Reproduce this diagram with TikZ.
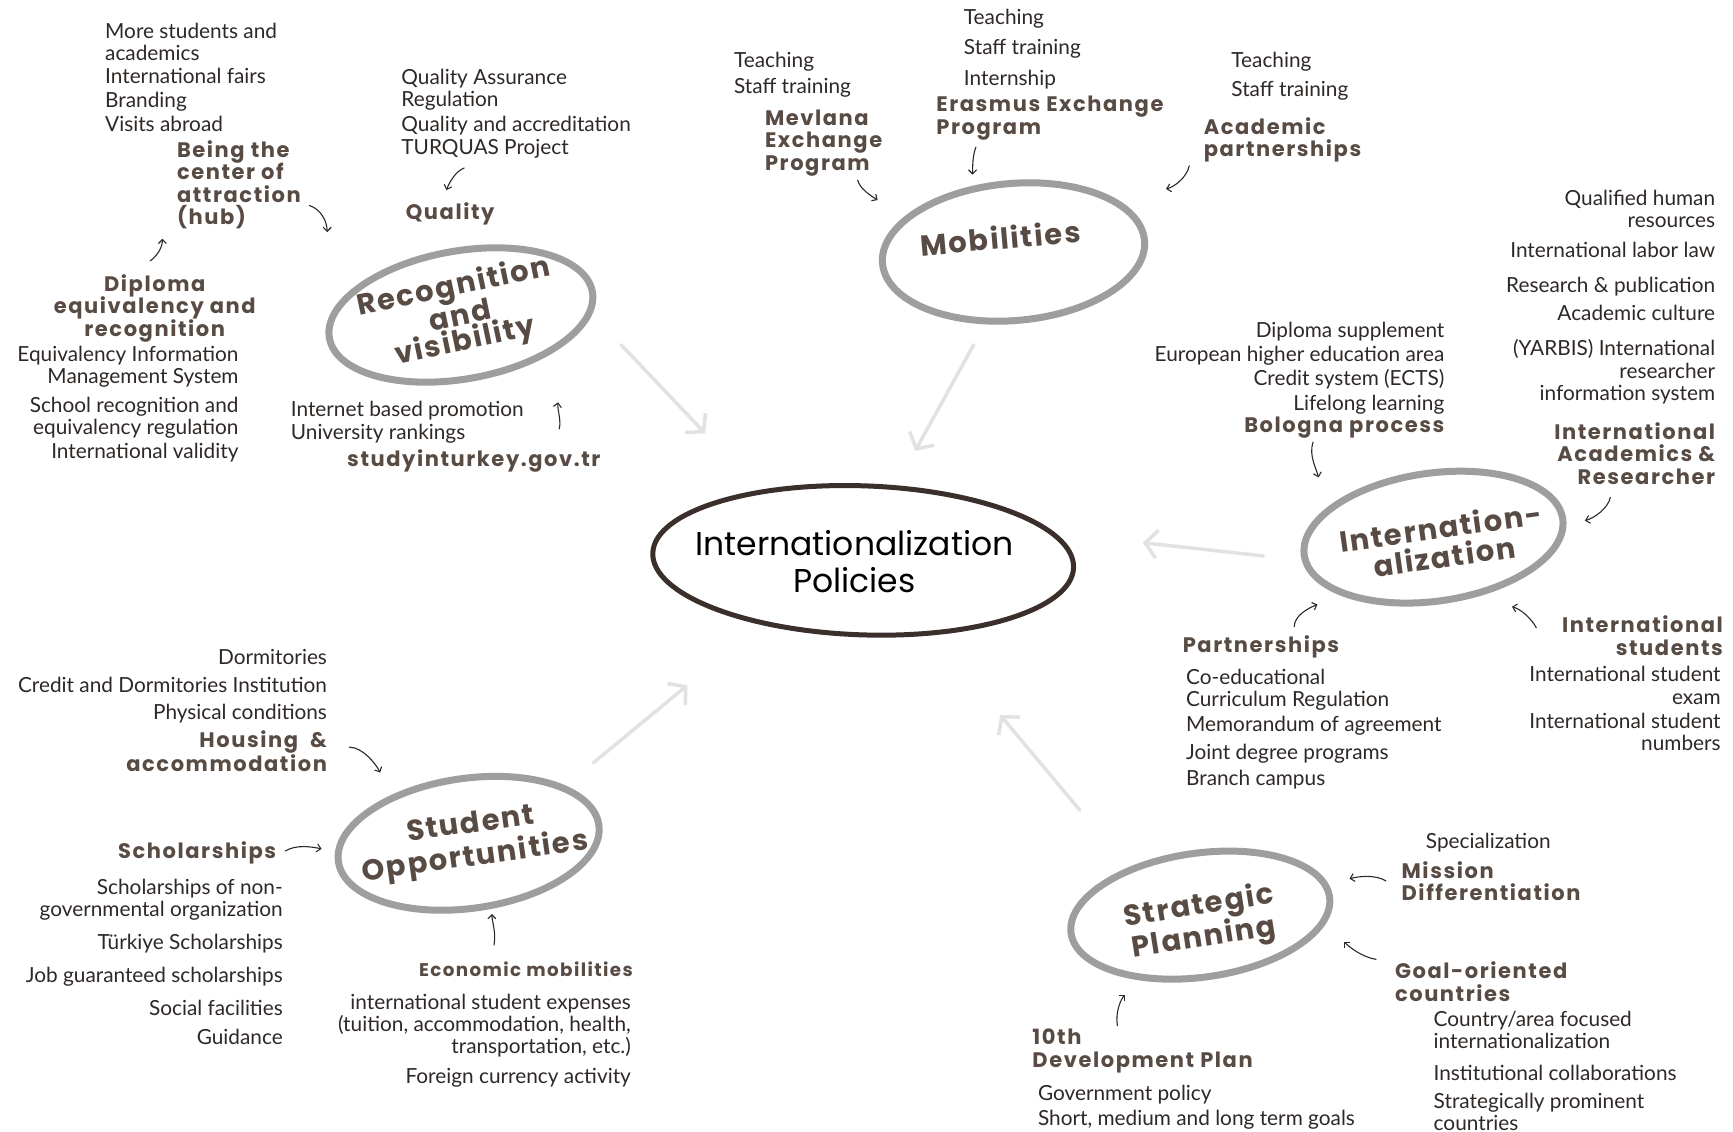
\documentclass[tikz,border=0pt]{standalone}
\usepackage{fontspec}
\usetikzlibrary{arrows.meta,shapes.geometric}
\newfontfamily\regf{Lato}
\newfontfamily\labf{Poppins}[LetterSpace=7.5]
\newfontfamily\ringf{Poppins}[LetterSpace=6]
\newfontfamily\ctrf{Poppins}
\definecolor{txt}{HTML}{2E2926}
\definecolor{labc}{HTML}{574B43}
\definecolor{ringc}{HTML}{9E9E9E}
\definecolor{ctrc}{HTML}{3A2F2B}
\definecolor{bigc}{HTML}{E2E2E2}
\begin{document}
\begin{tikzpicture}[x=1.1052pt,y=-1.1052pt,
  reg/.style={inner sep=0pt, text=txt, font=\regf\fontsize{20.8}{22.1}\selectfont},
  lab/.style={inner sep=0pt, text=labc, font=\labf\bfseries\fontsize{21}{22.5}\selectfont},
  ring/.style={ellipse, draw=ringc, line width=7pt, inner sep=0pt},
  ringtext/.style={inner sep=0pt, align=center, text=labc, font=\ringf\bfseries\fontsize{29}{25}\selectfont},
  big/.style={draw=bigc, line width=3.5pt, line cap=round, -{Straight Barb[length=12pt,width=28pt,line width=3.5pt]}},
  small/.style={draw=txt, line width=1.1pt, line cap=round, -{Straight Barb[length=4pt,width=8pt,line width=1.1pt]}}
]
\path[use as bounding box, fill=white] (0,0) rectangle (1568,1024);

% ---------- central node ----------
\node[ellipse, draw=ctrc, line width=5pt, inner sep=0pt, minimum width=421pt, minimum height=149pt, rotate=-2] (ctr) at (781,507) {};
\node[inner sep=0pt, align=center, text=black, font=\ctrf\fontsize{33}{36.5}\selectfont] (ctrt) at (773,508) {Internationalization\\Policies};

% ---------- rings ----------
\node[ring, minimum width=267pt, minimum height=128pt, rotate=10] (rec) at (417,285) {};
\node[ringtext, rotate=12] (rect) at (416,285) {Recognition\\and\\visibility};
\node[ring, minimum width=263pt, minimum height=137pt, rotate=5] (mob) at (917,228) {};
\node[ringtext, rotate=5] (mobt) at (905,215) {Mobilities};
\node[ring, minimum width=261pt, minimum height=128pt, rotate=8] (int) at (1297,486) {};
\node[ringtext, font=\ringf\bfseries\fontsize{29}{29}\selectfont, rotate=8] (intt) at (1305,490) {Internation-\\alization};
\node[ring, minimum width=263pt, minimum height=130pt, rotate=8] (stu) at (424,763) {};
\node[ringtext, font=\ringf\bfseries\fontsize{29}{33}\selectfont, rotate=8] (stut) at (428,762) {Student\\Opportunities};
\node[ring, minimum width=261pt, minimum height=124pt, rotate=8] (str) at (1086,828) {};
\node[ringtext, font=\ringf\bfseries\fontsize{29}{29}\selectfont, rotate=9] (strt) at (1087,835) {Strategic\\Planning};

% ---------- big arrows ----------
\coordinate (b1s) at (562,312); \coordinate (b1e) at (638,392);
\coordinate (b2s) at (881,312); \coordinate (b2e) at (828,408);
\coordinate (b3s) at (1143,503); \coordinate (b3e) at (1034,491);
\coordinate (b4s) at (537,690); \coordinate (b4e) at (622,620);
\coordinate (b5s) at (977,733); \coordinate (b5e) at (905,647);
\draw[big] (b1s) -- (b1e);
\draw[big] (b2s) -- (b2e);
\draw[big] (b3s) -- (b3e);
\draw[big] (b4s) -- (b4e);
\draw[big] (b5s) -- (b5e);

% ---------- Recognition and visibility ----------
\node[reg, anchor=north west, align=left] (hubl) at (95,21) {More students and\\academics\\[1pt]International fairs\\[1pt]Branding\\[2pt]Visits abroad};
\node[lab, anchor=north west, align=left] (hub) at (160,127) {Being the\\center of\\attraction\\(hub)};
\node[lab, anchor=north, align=center] (dip) at (140,248) {Diploma\\equivalency and\\recognition};
\node[reg, anchor=north east, align=right] (dipl) at (216,313) {Equivalency Information\\Management System\\[6.6pt]School recognition and\\equivalency regulation\\[2pt]International validity};
\node[reg, anchor=north west, align=left] (qual) at (363,62) {Quality Assurance\\Regulation\\[3.3pt]Quality and accreditation\\[1pt]TURQUAS Project};
\node[lab, anchor=north west] (qua) at (367,183) {Quality};
\node[reg, anchor=north west, align=left] (visl) at (263,363) {Internet based promotion\\[1pt]University rankings};
\node[lab, anchor=north west] (vis) at (314,407) {studyinturkey.gov.tr};

% ---------- Mobilities ----------
\node[reg, anchor=north west, align=left] (mevl) at (664,47) {Teaching\\[4.4pt]Staff training};
\node[lab, anchor=north west, align=left] (mev) at (692,99) {Mevlana\\Exchange\\Program};
\node[reg, anchor=north west, align=left] (eral) at (872,8) {Teaching\\[8.3pt]Staff training\\[8.3pt]Internship};
\node[lab, anchor=north west, align=left] (era) at (847,87) {Erasmus Exchange\\Program};
\node[reg, anchor=north west, align=left] (acal) at (1114,47) {Teaching\\[6.6pt]Staff training};
\node[lab, anchor=north west, align=left] (aca) at (1089,106) {Academic\\partnerships};

% ---------- Internationalization ----------
\node[reg, anchor=north east, align=right] (iarl) at (1552,172) {Qualified human\\resources\\[7.7pt]International labor law\\[13.3pt]Research \& publication\\[5.5pt]Academic culture\\[13.3pt](YARBIS) International\\researcher\\information system};
\node[lab, anchor=north east, align=right] (iar) at (1552,382) {International\\Academics \&\\Researcher};
\node[reg, anchor=north east, align=right] (bolol) at (1307,291) {Diploma supplement\\[2.2pt]European higher education area\\[2.2pt]Credit system (ECTS)\\[2.2pt]Lifelong learning};
\node[lab, anchor=north east] (bolo) at (1307,377) {Bologna process};
\node[lab, anchor=north west] (part) at (1070,575) {Partnerships};
\node[reg, anchor=north west, align=left] (partl) at (1073,605) {Co-educational\\Curriculum Regulation\\[3.3pt]Memorandum of agreement\\[5.5pt]Joint degree programs\\[4.4pt]Branch campus};
\node[lab, anchor=north east, align=right] (ist) at (1559,557) {International\\students};
\node[reg, anchor=north east, align=right] (istl) at (1557,603) {International student\\exam\\[2.2pt]International student\\numbers};

% ---------- Strategic Planning ----------
\node[reg, anchor=north west] (misl) at (1290,754) {Specialization};
\node[lab, anchor=north west, align=left] (mis) at (1268,779) {Mission\\Differentiation};
\node[lab, anchor=north west, align=left] (goal) at (1262,870) {Goal-oriented\\countries};
\node[reg, anchor=north west, align=left] (goall) at (1297,915) {Country/area focused\\internationalization\\[9.9pt]Institutional collaborations\\[5.5pt]Strategically prominent\\countries};
\node[lab, anchor=north west, align=left] (dev) at (934,931) {10th\\Development Plan};
\node[reg, anchor=north west, align=left] (devl) at (939,982) {Government policy\\[2.2pt]Short, medium and long term goals};

% ---------- Student Opportunities ----------
\node[reg, anchor=north east, align=right] (houl) at (296,587) {Dormitories\\[6.6pt]Credit and Dormitories Institution\\[4.4pt]Physical conditions};
\node[lab, anchor=north east, align=right] (hou) at (296,661) {Housing\ \ \&\\accommodation};
\node[lab, anchor=north east] (sch) at (250,761) {Scholarships};
\node[reg, anchor=north east, align=right] (schl) at (256,795) {Scholarships of non-\\governmental organization\\[11pt]Türkiye Scholarships\\[11pt]Job guaranteed scholarships\\[11pt]Social facilities\\[6.6pt]Guidance};
\node[lab, anchor=north west, font=\labf\bfseries\fontsize{18.3}{21}\selectfont] (eco) at (379,870) {Economic mobilities};
\node[reg, anchor=north east, align=right] (ecol) at (571,899) {international student expenses\\(tuition, accommodation, health,\\transportation, etc.)\\[7.7pt]Foreign currency activity};

% ---------- small arrows ----------
\coordinate (s1s) at (280,186); \coordinate (s1e) at (296,210);
\coordinate (s2s) at (136,236); \coordinate (s2e) at (147,216);
\coordinate (s3s) at (420,152); \coordinate (s3e) at (404,172);
\coordinate (s4s) at (506,388); \coordinate (s4e) at (505,364);
\coordinate (s5s) at (776,163); \coordinate (s5e) at (794,181);
\coordinate (s6s) at (883,133); \coordinate (s6e) at (880,158);
\coordinate (s7s) at (1076,150); \coordinate (s7e) at (1055,171);
\coordinate (s8s) at (1188,400); \coordinate (s8e) at (1193,432);
\coordinate (s9s) at (1457,450); \coordinate (s9e) at (1434,471);
\coordinate (s10s) at (1171,567); \coordinate (s10e) at (1192,547);
\coordinate (s11s) at (1390,568); \coordinate (s11e) at (1368,549);
\coordinate (s12s) at (1254,797); \coordinate (s12e) at (1221,795);
\coordinate (s13s) at (1245,868); \coordinate (s13e) at (1216,852);
\coordinate (s14s) at (1011,928); \coordinate (s14e) at (1018,900);
\coordinate (s15s) at (316,676); \coordinate (s15e) at (344,699);
\coordinate (s16s) at (258,770); \coordinate (s16e) at (291,768);
\coordinate (s17s) at (447,855); \coordinate (s17e) at (445,827);
\draw[small] (s1s) .. controls +(10,3) and +(0,-10) .. (s1e);
\draw[small] (s2s) .. controls +(7,-5) and +(0,7) .. (s2e);
\draw[small] (s3s) .. controls +(-8,3) and +(2,-6) .. (s3e);
\draw[small] (s4s) .. controls +(2,-8) and +(-1,6) .. (s4e);
\draw[small] (s5s) .. controls +(2,8) and +(-6,-4) .. (s5e);
\draw[small] (s6s) .. controls +(-3,8) and +(0,-8) .. (s6e);
\draw[small] (s7s) .. controls +(-2,10) and +(8,-2) .. (s7e);
\draw[small] (s8s) .. controls +(-4,12) and +(-2,-8) .. (s8e);
\draw[small] (s9s) .. controls +(-2,10) and +(8,-2) .. (s9e);
\draw[small] (s10s) .. controls +(0,-10) and +(-8,3) .. (s10e);
\draw[small] (s11s) .. controls +(-4,-8) and +(8,2) .. (s11e);
\draw[small] (s12s) .. controls +(-10,-6) and +(8,-2) .. (s12e);
\draw[small] (s13s) .. controls +(-12,-2) and +(6,6) .. (s13e);
\draw[small] (s14s) .. controls +(-2,-12) and +(-4,4) .. (s14e);
\draw[small] (s15s) .. controls +(12,0) and +(-4,-8) .. (s15e);
\draw[small] (s16s) .. controls +(10,-6) and +(-10,-2) .. (s16e);
\draw[small] (s17s) .. controls +(2,-12) and +(0,6) .. (s17e);
\end{tikzpicture}
\end{document}
